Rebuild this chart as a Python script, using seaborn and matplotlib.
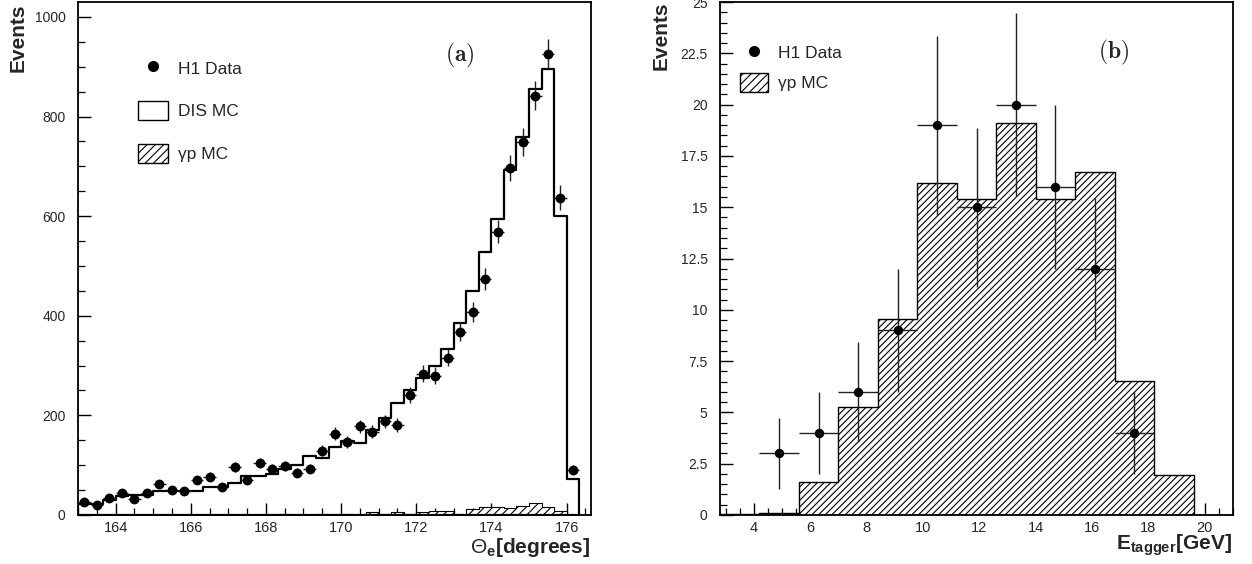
import numpy as np
import pandas as pd
import matplotlib
matplotlib.use("Agg")
import matplotlib.pyplot as plt
import seaborn as sns
from matplotlib.patches import Patch
from matplotlib.lines import Line2D
from matplotlib.ticker import MultipleLocator, FuncFormatter

# ---------------- data: panel (a) ----------------
theta_lo = 163.0
theta_bin = 1.0 / 3.0
dis_mc = [23, 23, 30, 38, 40, 40, 48, 48, 48, 48,
          56, 56, 64, 78, 79, 83, 93, 100, 118, 115,
          137, 148, 145, 171, 195, 225, 250, 276, 300, 334,
          385, 449, 529, 594, 692, 759, 856, 896, 600, 73]
gp_mc_a = [0, 0, 0, 0, 0, 0, 0, 0, 1, 1,
           0, 0, 0, 0, 0, 1, 2, 1, 1, 2,
           1, 2, 1, 6, 2, 7, 3, 7, 8, 8,
           3, 12, 16, 16, 14, 18, 25, 16, 8, 0]
data_a = [27, 20, 35, 44, 33, 44, 62, 51, 48, 70,
          77, 57, 97, 70, 104, 93, 99, 85, 93, 129,
          163, 147, 178, 167, 188, 181, 241, 284, 280, 316,
          368, 407, 474, 569, 696, 749, 842, 926, 637, 90]

# ---------------- data: panel (b) ----------------
etag_edges = [2.8, 4.2, 5.6, 7.0, 8.4, 9.8, 11.2, 12.6, 14.0, 15.4, 16.8, 18.2, 19.6, 21.0]
gp_mc_b = [0.05, 0.12, 1.6, 5.26, 9.54, 16.2, 15.4, 19.1, 15.4, 16.7, 6.55, 1.93, 0.0]
data_b_x = [4.9, 6.3, 7.7, 9.1, 10.5, 11.9, 13.3, 14.7, 16.1, 17.5]
data_b_y = [3, 4, 6, 9, 19, 15, 20, 16, 12, 4]

theta_edges = [float(v) for v in theta_lo + theta_bin * np.arange(len(dis_mc) + 1)]
te = np.array(theta_edges)
theta_c = 0.5 * (te[:-1] + te[1:])
dfA = pd.DataFrame({"theta": theta_c, "dis": dis_mc, "gp": gp_mc_a, "data": data_a})
eb = np.array(etag_edges)
dfB = pd.DataFrame({"e": 0.5 * (eb[:-1] + eb[1:]), "gp": gp_mc_b})
dfBd = pd.DataFrame({"e": data_b_x, "n": data_b_y})

# ---------------- style ----------------
sns.set_theme(style="white")
plt.rcParams["font.family"] = ["Liberation Sans", "DejaVu Sans"]
plt.rcParams["mathtext.fontset"] = "custom"
plt.rcParams["mathtext.rm"] = "Liberation Sans"
plt.rcParams["mathtext.bf"] = "Liberation Sans:bold"
plt.rcParams["mathtext.it"] = "Liberation Sans:italic"
plt.rcParams["hatch.linewidth"] = 0.8
plt.rcParams["hatch.color"] = "black"

W, H = 1252, 564
fig = plt.figure(figsize=(W / 100, H / 100), dpi=100)
fig.patch.set_facecolor("white")
axA = fig.add_axes([78 / W, 1 - 515 / H, (591 - 78) / W, 513 / H])
axB = fig.add_axes([720 / W, 1 - 515 / H, (1233 - 720) / W, 513 / H])

# ---------------- panel (a) ----------------
sns.histplot(data=dfA, x="theta", weights="gp", bins=theta_edges, element="step",
             fill=True, color="black", facecolor="white", edgecolor="black", hatch="////",
             linewidth=0.8, ax=axA, zorder=2)
sns.histplot(data=dfA, x="theta", weights="dis", bins=theta_edges, element="step",
             fill=True, color="black", facecolor=(1, 1, 1, 0), edgecolor="black",
             linewidth=1.6, ax=axA, zorder=3)
axA.errorbar(dfA["theta"], dfA["data"], yerr=np.sqrt(dfA["data"]), xerr=theta_bin / 2,
             fmt="none", ecolor="#222222", elinewidth=1.0, capsize=0, zorder=4)
sns.scatterplot(data=dfA, x="theta", y="data", color="black", edgecolor="black",
                s=50, linewidth=0, ax=axA, zorder=5)
axA.set_xlim(163.0, 176.65)
axA.set_ylim(0, 1030)
axA.xaxis.set_major_locator(MultipleLocator(2))
axA.xaxis.set_minor_locator(MultipleLocator(0.5))
axA.yaxis.set_major_locator(MultipleLocator(200))
axA.yaxis.set_minor_locator(MultipleLocator(50))

# ---------------- panel (b) ----------------
sns.histplot(data=dfB, x="e", weights="gp", bins=etag_edges, element="step",
             fill=True, color="black", facecolor="white", edgecolor="black", hatch="/////",
             linewidth=1.0, ax=axB, zorder=2)
axB.errorbar(dfBd["e"], dfBd["n"], yerr=np.sqrt(dfBd["n"]), xerr=0.7,
             fmt="none", ecolor="#222222", elinewidth=1.0, capsize=0, zorder=4)
sns.scatterplot(data=dfBd, x="e", y="n", color="black", edgecolor="black",
                s=46, linewidth=0, ax=axB, zorder=5)
axB.set_xlim(2.8, 21.0)
axB.set_ylim(0, 25)
axB.xaxis.set_major_locator(MultipleLocator(2))
axB.xaxis.set_minor_locator(MultipleLocator(0.5))
axB.yaxis.set_major_locator(MultipleLocator(2.5))
axB.yaxis.set_minor_locator(MultipleLocator(0.5))
axB.yaxis.set_major_formatter(FuncFormatter(lambda v, p: f"{v:g}"))

for ax in (axA, axB):
    ax.set_xlabel("")
    ax.set_ylabel("")
    for s in ax.spines.values():
        s.set_visible(True)
        s.set_color("black")
        s.set_linewidth(1.3)
    ax.tick_params(which="major", direction="in", length=9, width=1.0, color="black",
                   top=False, right=False, bottom=True, left=True)
    ax.tick_params(which="minor", direction="in", length=5, width=0.9, color="black",
                   top=False, right=False, bottom=True, left=True)
    ax.tick_params(axis="y", which="major", pad=9, labelsize=10)
    ax.tick_params(axis="x", which="major", pad=4, labelsize=10.5)
    ax.set_facecolor("white")

# ---------------- legends ----------------
legA = axA.legend(
    handles=[Line2D([], [], marker="o", color="black", linestyle="none", markersize=7),
             Patch(facecolor="white", edgecolor="black", linewidth=1.0),
             Patch(facecolor="white", edgecolor="black", hatch="////", linewidth=1.0)],
    labels=["H1 Data", "DIS MC", "\u03b3p MC"],
    loc="upper left", bbox_to_anchor=((138 - 78) / 513, 1 - (58 - 2) / 513),
    frameon=False, borderpad=0, borderaxespad=0, fontsize=12.5,
    handlelength=1.7, handleheight=1.35, labelspacing=1.35, handletextpad=0.6)
legB = axB.legend(
    handles=[Line2D([], [], marker="o", color="black", linestyle="none", markersize=7),
             Patch(facecolor="white", edgecolor="black", hatch="////", linewidth=1.0)],
    labels=["H1 Data", "\u03b3p MC"],
    loc="upper left", bbox_to_anchor=((740 - 720) / 513, 1 - (43 - 2) / 513),
    frameon=False, borderpad=0, borderaxespad=0, fontsize=12.5,
    handlelength=1.6, handleheight=1.3, labelspacing=0.65, handletextpad=0.6)

# ---------------- panel labels ----------------
axA.text((460 - 78) / 513, 1 - (55 - 2) / 513, r"$\mathbf{(a)}$", transform=axA.transAxes,
         ha="center", va="center", fontsize=17, math_fontfamily="cm")
axB.text((1114 - 720) / 513, 1 - (52 - 2) / 513, r"$\mathbf{(b)}$", transform=axB.transAxes,
         ha="center", va="center", fontsize=17, math_fontfamily="cm")

# ---------------- axis titles ----------------
fig.text(18.5 / W, 1 - 4 / H, "Events", rotation=90, ha="center", va="top",
         fontsize=15, fontweight="bold")
fig.text(661.5 / W, 1 - 2 / H, "Events", rotation=90, ha="center", va="top",
         fontsize=15, fontweight="bold")
fig.text(590 / W, 1 - 553 / H, r"$\Theta_{\mathbf{e}}$[degrees]", ha="right", va="baseline",
         fontsize=15, fontweight="bold")
fig.text(1232 / W, 1 - 550 / H, r"$\mathbf{E_{tagger}}$[GeV]", ha="right", va="baseline",
         fontsize=15, fontweight="bold")

fig.savefig("out.png", dpi=100, facecolor="white")
